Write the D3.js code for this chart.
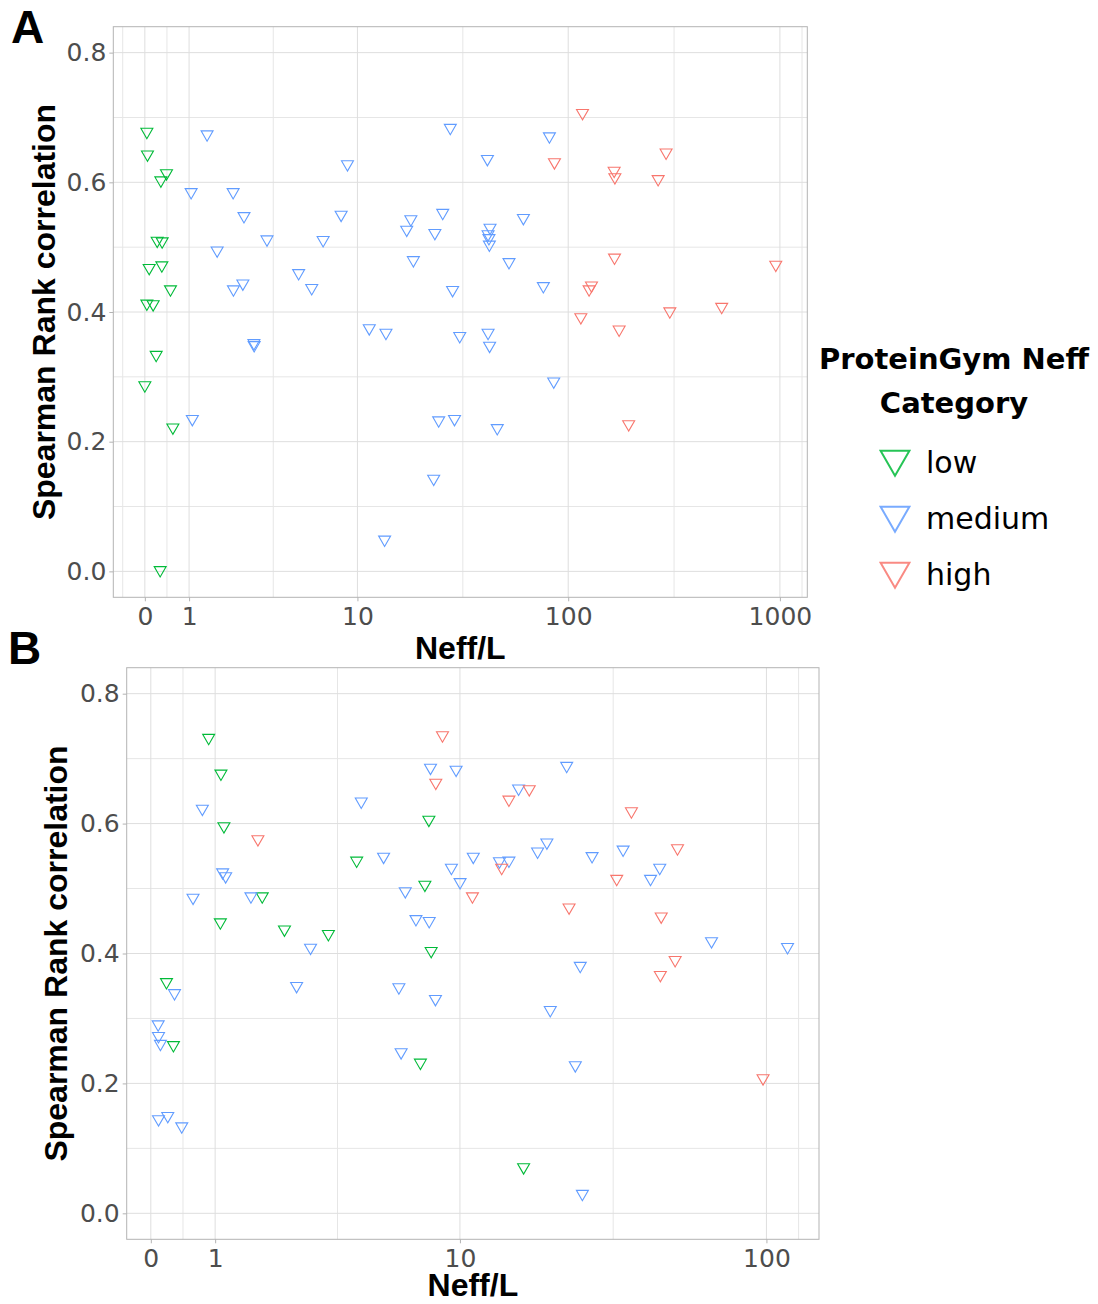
<!DOCTYPE html>
<html>
<head>
<meta charset="utf-8">
<script src="https://cdn.jsdelivr.net/npm/d3@7"></script>
<style>
  body { margin: 0; background: #fff; }
</style>
</head>
<body>
<div id="chart"></div>
<script>
// Panel A: Neff/L vs Spearman, split by ProteinGym Neff category
const aLowNeff = [0.044, 0.057, 0.475, 0.350, 0.269, 0.379, 0.094, 0.372, 0.565, 0.044, 0.181, 0.247, 0.0, 0.619, 0.335];
const aLowRho  = [0.678, 0.643, 0.614, 0.603, 0.510, 0.509, 0.468, 0.472, 0.435, 0.413, 0.412, 0.334, 0.287, 0.222, 0.002];

const aMedNeff = [1.46, 27.7, 8.95, 1.05, 2.23, 2.60, 8.34, 18.0, 25.5, 17.2, 23.4, 3.51, 6.81, 1.74, 18.5,
  5.14, 2.56, 2.24, 5.98, 28.4, 2.97, 2.98, 11.4, 13.7, 30.7, 1.08, 24.4, 29.0, 23.1, 13.5,
  81.5, 41.5, 61.4, 42.7, 41.8, 42.2, 42.4, 52.5, 76.3, 41.8, 42.5, 85.4, 46.2];
const aMedRho  = [0.674, 0.684, 0.628, 0.585, 0.585, 0.548, 0.550, 0.543, 0.553, 0.527, 0.522, 0.512, 0.511, 0.495, 0.480,
  0.460, 0.444, 0.435, 0.437, 0.434, 0.352, 0.349, 0.375, 0.368, 0.363, 0.235, 0.233, 0.235, 0.143, 0.049,
  0.671, 0.636, 0.545, 0.530, 0.520, 0.514, 0.504, 0.477, 0.440, 0.368, 0.348, 0.293, 0.221];

const aHighNeff = [116.8, 290, 86.1, 164.8, 166.1, 266, 165.5, 956, 128.8, 125.5, 302, 531, 114.7, 174, 193];
const aHighRho  = [0.707, 0.646, 0.631, 0.618, 0.608, 0.605, 0.484, 0.473, 0.441, 0.435, 0.401, 0.408, 0.392, 0.373, 0.227];

// Panel B
const bLowNeff = [0.893, 1.098, 1.149, 7.88, 4.45, 7.64, 1.867, 1.088, 2.35, 3.51, 8.02, 0.235, 0.340, 7.38, 16.2];
const bLowRho  = [0.732, 0.677, 0.596, 0.606, 0.543, 0.506, 0.488, 0.448, 0.437, 0.430, 0.404, 0.356, 0.259, 0.232, 0.071];

const bMedNeff = [0.790, 7.98, 9.71, 4.62, 5.53, 1.127, 1.179, 0.642, 1.642, 9.37, 10.01, 11.07, 6.56, 7.13, 7.90,
  3.00, 0.356, 2.64, 6.24, 8.29, 0.110, 0.115, 0.144, 6.35, 0.115, 0.254, 0.467,
  22.4, 15.6, 19.3, 18.0, 13.5, 14.5, 27.1, 34.2, 45.0, 42.0, 66.3, 117.1, 24.8, 19.8, 23.9, 25.2];
const bMedRho  = [0.623, 0.686, 0.683, 0.634, 0.549, 0.525, 0.519, 0.486, 0.488, 0.532, 0.510, 0.549, 0.496, 0.453, 0.450,
  0.409, 0.339, 0.350, 0.348, 0.330, 0.291, 0.273, 0.261, 0.248, 0.145, 0.150, 0.134,
  0.689, 0.654, 0.571, 0.557, 0.542, 0.543, 0.550, 0.560, 0.532, 0.515, 0.419, 0.410, 0.381, 0.313, 0.228, 0.030];

const bHighNeff = [8.75, 8.31, 1.779, 11.0, 16.9, 14.5, 36.4, 51.4, 13.73, 32.6, 22.8, 45.5, 50.5, 45.2, 97.5];
const bHighRho  = [0.736, 0.663, 0.576, 0.488, 0.653, 0.637, 0.619, 0.562, 0.532, 0.515, 0.471, 0.457, 0.390, 0.367, 0.208];

const categories = ["low", "medium", "high"];
const catColors = ["#00BA38", "#619CFF", "#F8766D"];
const yLimits = [0, 0.8];
const yTicks = [0, 0.2, 0.4, 0.6, 0.8];
const aXTicks = [0, 1, 10, 100, 1000];
const bXTicks = [0, 1, 10, 100];

// pseudo-log transform (sigma = 1), as in ggplot's pseudo_log_trans
const tr = v => Math.asinh(v / 2);

const color = d3.scaleOrdinal().domain(categories).range(catColors);

const toPoints = (neff, rho, cat) => neff.map((v, i) => ({neff: v, rho: rho[i], cat}));
const aPoints = [
  ...toPoints(aLowNeff, aLowRho, "low"),
  ...toPoints(aMedNeff, aMedRho, "medium"),
  ...toPoints(aHighNeff, aHighRho, "high")
];
const bPoints = [
  ...toPoints(bLowNeff, bLowRho, "low"),
  ...toPoints(bMedNeff, bMedRho, "medium"),
  ...toPoints(bHighNeff, bHighRho, "high")
];

const width = 1098;
const height = 1304;

const svg = d3.select("#chart").append("svg")
  .attr("width", width)
  .attr("height", height)
  .attr("viewBox", [0, 0, width, height]);

// minor breaks the way ggplot does them: midpoints, extended one step past the ends
function minorBreaks(major, domain) {
  let b = major.filter(v => v >= domain[0] && v <= domain[1]);
  const bd = b[1] - b[0];
  if (domain[0] < b[0]) b = [b[0] - bd, ...b];
  if (domain[1] > b[b.length - 1]) b = [...b, b[b.length - 1] + bd];
  const m = [];
  for (let i = 0; i < b.length - 1; i++) m.push((b[i] + b[i + 1]) / 2);
  return m.filter(v => v >= domain[0] && v <= domain[1]);
}

const expand = ([a, b]) => { const p = (b - a) * 0.05; return [a - p, b + p]; };

function drawPanel({points, xTicks, left, right, top, bottom, letter, letterX, letterY, yTitleX, xTitleY}) {
  const x = d3.scaleLinear()
    .domain(expand(d3.extent(points, d => tr(d.neff))))
    .range([left, right]);
  const y = d3.scaleLinear()
    .domain(expand(yLimits))
    .range([bottom, top]);

  const g = svg.append("g");

  // grid
  const xMajor = xTicks.map(tr);
  g.append("g").selectAll("line")
    .data(minorBreaks(xMajor, x.domain()))
    .join("line")
    .attr("x1", d => x(d)).attr("x2", d => x(d))
    .attr("y1", top).attr("y2", bottom)
    .attr("stroke", "#e6e6e6").attr("stroke-width", 1);
  g.append("g").selectAll("line")
    .data(minorBreaks(yTicks, y.domain()))
    .join("line")
    .attr("y1", d => y(d)).attr("y2", d => y(d))
    .attr("x1", left).attr("x2", right)
    .attr("stroke", "#e6e6e6").attr("stroke-width", 1);
  g.append("g").selectAll("line")
    .data(xMajor)
    .join("line")
    .attr("x1", d => x(d)).attr("x2", d => x(d))
    .attr("y1", top).attr("y2", bottom)
    .attr("stroke", "#dedede").attr("stroke-width", 1);
  g.append("g").selectAll("line")
    .data(yTicks)
    .join("line")
    .attr("y1", d => y(d)).attr("y2", d => y(d))
    .attr("x1", left).attr("x2", right)
    .attr("stroke", "#dedede").attr("stroke-width", 1);

  // points
  const tri = d3.symbol(d3.symbolTriangle).size(62);
  g.append("g").selectAll("path")
    .data(points)
    .join("path")
    .attr("d", tri)
    .attr("transform", d => `translate(${x(tr(d.neff))},${y(d.rho)}) rotate(180)`)
    .attr("fill", "none")
    .attr("stroke", d => color(d.cat))
    .attr("stroke-width", 1.1);

  // panel border
  g.append("rect")
    .attr("x", left).attr("y", top)
    .attr("width", right - left).attr("height", bottom - top)
    .attr("fill", "none").attr("stroke", "#b3b3b3").attr("stroke-width", 1);

  const styleAxis = a => a
    .call(s => s.select(".domain").remove())
    .call(s => s.selectAll(".tick line").attr("stroke", "#b3b3b3"))
    .call(s => s.selectAll(".tick text").attr("fill", "#4d4d4d"))
    .attr("font-family", "'DejaVu Sans', sans-serif")
    .attr("font-size", 25);

  g.append("g")
    .attr("transform", `translate(0,${bottom})`)
    .call(d3.axisBottom(x).tickValues(xMajor).tickFormat((d, i) => xTicks[i]).tickSize(4).tickPadding(6))
    .call(styleAxis);

  g.append("g")
    .attr("transform", `translate(${left},0)`)
    .call(d3.axisLeft(y).tickValues(yTicks).tickFormat(d3.format(".1f")).tickSize(4).tickPadding(3))
    .call(styleAxis);

  // titles
  g.append("text")
    .attr("x", (left + right) / 2).attr("y", xTitleY)
    .attr("text-anchor", "middle")
    .attr("font-family", "'Liberation Sans', Arial, sans-serif")
    .attr("font-weight", "bold").attr("font-size", 32)
    .text("Neff/L");

  g.append("text")
    .attr("transform", `translate(${yTitleX},${(top + bottom) / 2}) rotate(-90)`)
    .attr("text-anchor", "middle")
    .attr("font-family", "'Liberation Sans', Arial, sans-serif")
    .attr("font-weight", "bold").attr("font-size", 32)
    .text("Spearman Rank correlation");

  g.append("text")
    .attr("x", letterX).attr("y", letterY)
    .attr("font-family", "'Liberation Sans', Arial, sans-serif")
    .attr("font-weight", "bold").attr("font-size", 46)
    .text(letter);
}

drawPanel({points: aPoints, xTicks: aXTicks, left: 113.3, right: 807.3, top: 26.7, bottom: 597.3,
  letter: "A", letterX: 11, letterY: 43, yTitleX: 55, xTitleY: 659});
drawPanel({points: bPoints, xTicks: bXTicks, left: 126.7, right: 819, top: 667.7, bottom: 1239.3,
  letter: "B", letterX: 8, letterY: 664, yTitleX: 67, xTitleY: 1296});

// legend
const legend = svg.append("g");
legend.append("text")
  .attr("x", 954).attr("y", 369)
  .attr("text-anchor", "middle")
  .attr("font-family", "'DejaVu Sans', sans-serif")
  .attr("font-weight", "bold").attr("font-size", 29)
  .call(t => t.append("tspan").attr("x", 954).text("ProteinGym Neff"))
  .call(t => t.append("tspan").attr("x", 954).attr("dy", 44).text("Category"));

const ly = d3.scalePoint().domain(categories).range([459, 571]);
const keyTri = d3.symbol(d3.symbolTriangle).size(360);
legend.append("g").selectAll("path")
  .data(categories)
  .join("path")
  .attr("d", keyTri)
  .attr("transform", d => `translate(895,${ly(d)}) rotate(180)`)
  .attr("fill", "none")
  .attr("stroke", d => color(d))
  .attr("stroke-width", 2)
  .attr("stroke-opacity", 0.85);
legend.append("g").selectAll("text")
  .data(categories)
  .join("text")
  .attr("x", 926)
  .attr("y", d => ly(d) + 14)
  .attr("font-family", "'DejaVu Sans', sans-serif")
  .attr("font-size", 30)
  .text(d => d);
</script>
</body>
</html>
